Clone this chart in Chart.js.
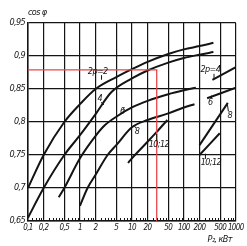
<!DOCTYPE html>
<html><head><meta charset="utf-8">
<script src="https://cdn.jsdelivr.net/npm/chart.js@4/dist/chart.umd.min.js"></script>
<style>html,body{margin:0;padding:0;background:#fff}</style>
</head><body>
<canvas id="c" width="247" height="246"></canvas>
<script>
// ---- data ----
const xTicks = [0.1,0.2,0.5,1,2,5,10,20,50,100,200,500,1000];
const xTickLabels = ['0,1','0,2','0,5','1','2','5','10','20','50','100','200','500','1000'];
const yTicks = [0.65,0.7,0.75,0.8,0.85,0.9,0.95];
const yTickLabels = ['0,65','0,7','0,75','0,8','0,85','0,9','0,95'];
const minorMult = [1.2,1.4,1.6,1.8,2.5,3,3.5,4,4.5,6,7,8,9];

const p2P   = [0.1,0.2,0.5,1,2,5,10,20,50,100,200,370];
const p2Cos = [0.70,0.75,0.80,0.827,0.85,0.868,0.88,0.891,0.903,0.91,0.915,0.92];
const p4P   = [0.1,0.2,0.5,1,2,4,10,20,50,100,200,370];
const p4Cos = [0.655,0.70,0.75,0.78,0.812,0.845,0.866,0.878,0.89,0.897,0.902,0.906];
const p6P   = [0.39,0.5,1,2,3,5,10,20,50,100,170];
const p6Cos = [0.686,0.70,0.745,0.779,0.795,0.808,0.822,0.832,0.842,0.848,0.852];
const p8P   = [1,1.4,2,3.4,5,10,20,50,100,160];
const p8Cos = [0.673,0.70,0.72,0.75,0.765,0.792,0.803,0.813,0.822,0.827];
const p10P  = [8.4,10,20,30,48];
const p10Cos= [0.738,0.745,0.77,0.785,0.803];
// right-hand group
const r4P = [354,1000],  r4Cos = [0.864,0.883];
const r6P = [280,1000],  r6Cos = [0.836,0.852];
const r8P = [200,700],   r8Cos = [0.765,0.829];
const r10P = [200,490],  r10Cos = [0.75,0.783];
// red reading line
const redP = [0.1,30,30], redCos = [0.879,0.879,0.65];
// curve labels and the curve point each label's leader touches
const annotText = ['2p=2','4','6','8','10;12','2p=4','6','8','10;12'];
const annotP    = [2.2,2.4,6.5,12.5,33,323,323,760,330];
const annotCos  = [0.877,0.836,0.815,0.785,0.765,0.879,0.83,0.81,0.738];
const leaderP   = [2.6,2.9,7.2,11,30,380,340,690,260];
const leaderCos = [0.864,0.826,0.818,0.795,0.782,0.866,0.84,0.826,0.752];

const FONT = "'Liberation Sans Narrow','DejaVu Sans Condensed','Liberation Sans',sans-serif";
const INK = '#141414';
const pts = (xs, ys) => xs.map((x,i)=>({x, y: ys[i]}));
const curve = (xs, ys) => ({data: pts(xs,ys), borderColor: INK, borderWidth: 2, pointRadius: 0, cubicInterpolationMode: 'monotone', fill: false});

const tighten = {
  id: 'tighten',
  beforeDraw(chart) { chart.ctx.letterSpacing = '-0.6px'; }
};

const extras = {
  id: 'extras',
  afterDatasetsDraw(chart) {
    const {ctx, chartArea: a, scales: {x, y}} = chart;
    ctx.save();
    ctx.strokeStyle = INK; ctx.lineWidth = 1;
    for (let d = 0.1; d < 1000; d *= 10) {
      for (const m of minorMult) {
        const px = Math.round(x.getPixelForValue(m * d)) + 0.5;
        ctx.beginPath(); ctx.moveTo(px, a.bottom); ctx.lineTo(px, a.bottom - 3); ctx.stroke();
      }
    }
    ctx.fillStyle = INK;
    ctx.font = 'italic 9px ' + FONT;
    ctx.textAlign = 'center'; ctx.textBaseline = 'middle';
    annotText.forEach((t, i) => {
      const tx = x.getPixelForValue(annotP[i]), ty = y.getPixelForValue(annotCos[i]);
      const lx = x.getPixelForValue(leaderP[i]), ly = y.getPixelForValue(leaderCos[i]);
      const w = ctx.measureText(t).width;
      ctx.fillText(t, tx, ty);
      const sx = tx + Math.sign(lx - tx) * Math.min(Math.abs(lx - tx), w / 2 - 1);
      const sy = ty + Math.sign(ly - ty) * 4;
      ctx.beginPath(); ctx.moveTo(sx, sy); ctx.lineTo(lx, ly); ctx.stroke();
    });
    ctx.textAlign = 'left';
    ctx.fillText('cos φ', a.left, 13);
    ctx.textAlign = 'right';
    ctx.fillText('P₂, кВт', a.right - 4, 240);
    ctx.restore();
  }
};

new Chart(document.getElementById('c'), {
  type: 'line',
  data: {
    datasets: [
      {data: pts(redP, redCos), borderColor: '#e8474a', borderWidth: 1.3, pointRadius: 0, tension: 0, fill: false},
      curve(p2P, p2Cos), curve(p4P, p4Cos), curve(p6P, p6Cos), curve(p8P, p8Cos), curve(p10P, p10Cos),
      curve(r4P, r4Cos), curve(r6P, r6Cos), curve(r8P, r8Cos), curve(r10P, r10Cos)
    ]
  },
  options: {
    responsive: false, animation: false, devicePixelRatio: 1,
    layout: {padding: {top: 23, right: 9, left: 0, bottom: 0}},
    plugins: {legend: {display: false}, tooltip: {enabled: false}, title: {display: false}},
    scales: {
      x: {
        type: 'logarithmic', min: 0.1, max: 1000,
        afterBuildTicks: s => { s.ticks = xTicks.map(v => ({value: v})); },
        afterFit: s => { s.height = 25; },
        ticks: {autoSkip: false, maxRotation: 0, padding: 2, color: INK,
          font: {family: FONT, size: 8, style: 'italic'},
          callback: (v, i) => xTickLabels[i]},
        grid: {color: INK, lineWidth: 1.2, drawTicks: false},
        border: {color: INK, width: 1.5}
      },
      y: {
        type: 'linear', min: 0.65, max: 0.95,
        afterBuildTicks: s => { s.ticks = yTicks.map(v => ({value: v})); },
        afterFit: s => { s.width = 28; },
        ticks: {padding: 3, color: INK,
          font: {family: FONT, size: 9, style: 'italic'},
          callback: (v, i) => yTickLabels[i]},
        grid: {color: INK, lineWidth: 1.2, drawTicks: false},
        border: {color: INK, width: 1.5}
      }
    }
  },
  plugins: [tighten, extras]
});
</script>
</body></html>
